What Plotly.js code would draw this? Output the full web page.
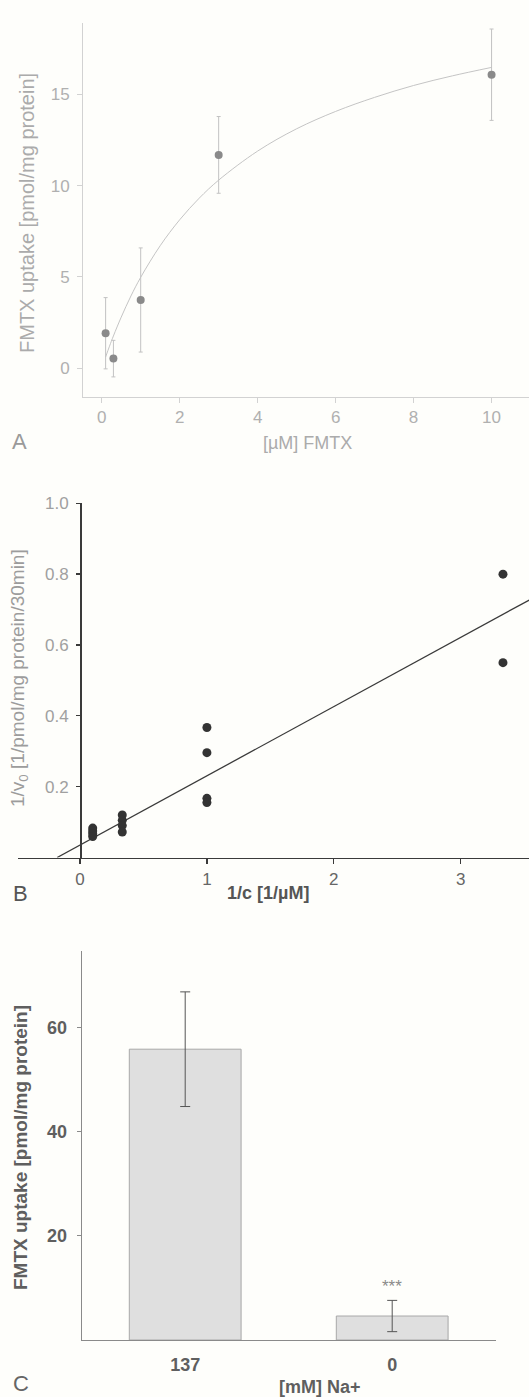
<!DOCTYPE html>
<html>
<head>
<meta charset="utf-8">
<script src="https://cdn.plot.ly/plotly-3.0.1.min.js"></script>
<style>
html,body{margin:0;padding:0;background:#fefefb;}
#chart{width:529px;height:1397px;}
</style>
</head>
<body>
<div id="chart"></div>
<script>
// ---------- Panel A: FMTX uptake vs concentration ----------
const concA = [0.1, 0.3, 1, 3, 10];
const uptakeA = [1.92, 0.53, 3.74, 11.68, 16.07];
const errA = [1.95, 1.0, 2.85, 2.1, 2.5];
// fitted saturation curve
const fitAx = [0.1, 0.2, 0.3, 0.5, 0.75, 1, 1.5, 2, 2.5, 3, 4, 5, 6, 7, 8, 9, 10];
const fitAy = [0.62, 1.21, 1.77, 2.80, 3.96, 4.98, 6.71, 8.13, 9.31, 10.30, 11.89, 13.11, 14.06, 14.83, 15.48, 16.01, 16.47];

// ---------- Panel B: Lineweaver-Burk ----------
const invConcB = [0.1, 0.1, 0.1, 0.1, 0.333, 0.333, 0.333, 0.333, 1, 1, 1, 1, 3.333, 3.333];
const invRateB = [0.083, 0.075, 0.067, 0.059, 0.120, 0.105, 0.090, 0.072, 0.367, 0.296, 0.167, 0.155, 0.80, 0.55];
const fitBx = [-0.18, 3.54];
const fitBy = [0.0, 0.727];

// ---------- Panel C: Na+ dependence ----------
const naCats = ['137', '0'];
const naUptake = [55.8, 4.6];
const naErr = [11.0, 3.0];
const sigLabel = '***';

const FONT = 'Liberation Sans, Arial, Helvetica, sans-serif';
const W = 529, H = 1397;
const px = v => v / W;
const py = v => 1 - v / H;
const BG = '#fefefb';

const traces = [
  {
    x: fitAx, y: fitAy, type: 'scatter', mode: 'lines', line: {color: '#c4c4c4', width: 1, shape: 'spline'},
    xaxis: 'x', yaxis: 'y', hoverinfo: 'skip'
  },
  {
    x: concA, y: uptakeA, type: 'scatter', mode: 'markers',
    marker: {color: '#8a8a8a', size: 8},
    error_y: {type: 'data', array: errA, visible: true, color: '#c2c2c2', thickness: 1, width: 2},
    xaxis: 'x', yaxis: 'y'
  },
  {
    x: fitBx, y: fitBy, type: 'scatter', mode: 'lines', line: {color: '#3a3a3a', width: 1.3},
    xaxis: 'x2', yaxis: 'y2', cliponaxis: false
  },
  {
    x: invConcB, y: invRateB, type: 'scatter', mode: 'markers',
    marker: {color: '#333333', size: 9},
    xaxis: 'x2', yaxis: 'y2'
  },
  {
    x: naCats, y: naUptake, type: 'bar', width: 0.54,
    marker: {color: '#dfdfdf', line: {color: '#a8a8a8', width: 1}},
    error_y: {type: 'data', array: naErr, visible: true, color: '#555555', thickness: 1, width: 5},
    xaxis: 'x3', yaxis: 'y3'
  }
];

const layout = {
  width: W, height: H,
  margin: {l: 0, r: 0, t: 0, b: 0},
  paper_bgcolor: BG, plot_bgcolor: BG,
  showlegend: false,
  font: {family: FONT},
  xaxis: {
    domain: [px(83), 1], range: [-0.48, 10.96], anchor: 'y',
    showline: true, linecolor: '#d2d2d2', linewidth: 1,
    ticks: 'outside', ticklen: 5, tickcolor: '#d2d2d2',
    tickvals: [0, 2, 4, 6, 8, 10], tickfont: {size: 17, color: '#b0b0b0'},
    showgrid: false, zeroline: false
  },
  yaxis: {
    domain: [py(396.7), py(23)], range: [-1.554, 18.9], anchor: 'x',
    showline: true, linecolor: '#d2d2d2', linewidth: 1,
    ticks: 'outside', ticklen: 5, tickcolor: '#d2d2d2',
    tickvals: [0, 5, 10, 15], tickfont: {size: 17, color: '#b0b0b0'},
    ticklabelstandoff: 4,
    showgrid: false, zeroline: false
  },
  xaxis2: {
    domain: [px(18), 1], range: [-0.4886, 3.538], anchor: 'y2',
    showline: true, linecolor: '#3a3a3a', linewidth: 1.6,
    ticks: 'outside', ticklen: 5, tickcolor: '#3a3a3a', tickwidth: 1.3,
    tickvals: [0, 1, 2, 3], tickfont: {size: 17, color: '#666666'},
    showgrid: false, zeroline: false
  },
  yaxis2: {
    domain: [py(857.5), py(503.3)], range: [0, 1.0], anchor: 'free', position: px(80),
    showline: true, linecolor: '#3a3a3a', linewidth: 1.6,
    ticks: 'outside', ticklen: 4, tickcolor: '#3a3a3a', tickwidth: 1.3,
    tickvals: [0.2, 0.4, 0.6, 0.8, 1.0], tickformat: '.1f',
    tickfont: {size: 17, color: '#a0a0a0'}, ticklabelstandoff: 4,
    showgrid: false, zeroline: false
  },
  xaxis3: {
    domain: [px(81.7), px(495.7)], type: 'category', range: [-0.5, 1.5], anchor: 'y3',
    showline: true, linecolor: '#8a8a8a', linewidth: 1,
    ticks: '', tickfont: {size: 18, color: '#5f5f5f', weight: 'bold'},
    ticklabelstandoff: 8,
    showgrid: false, zeroline: false
  },
  yaxis3: {
    domain: [py(1340), py(950.7)], range: [0, 74.7], anchor: 'x3',
    showline: true, linecolor: '#8a8a8a', linewidth: 1,
    ticks: 'outside', ticklen: 4, tickcolor: '#8a8a8a',
    tickvals: [20, 40, 60], tickfont: {size: 18, color: '#5f5f5f', weight: 'bold'},
    ticklabelstandoff: 6,
    showgrid: false, zeroline: false
  },
  annotations: [
    // Panel A
    {text: 'FMTX uptake [pmol/mg protein]', xref: 'paper', yref: 'paper', x: px(27), y: py(213),
     textangle: -90, showarrow: false, xanchor: 'center', yanchor: 'middle', font: {size: 20, color: '#ababab'}},
    {text: '[µM] FMTX', xref: 'paper', yref: 'paper', x: px(307), y: py(443),
     showarrow: false, xanchor: 'center', yanchor: 'middle', font: {size: 18, color: '#ababab'}},
    {text: 'A', xref: 'paper', yref: 'paper', x: px(19), y: py(441),
     showarrow: false, xanchor: 'center', yanchor: 'middle', font: {size: 22, color: '#9a9a9a'}},
    // Panel B
    {text: '1/v<sub>0</sub> [1/pmol/mg protein/30min]', xref: 'paper', yref: 'paper', x: px(19), y: py(678),
     textangle: -90, showarrow: false, xanchor: 'center', yanchor: 'middle', font: {size: 19, color: '#9c9c9c'}},
    {text: '1/c [1/µM]', xref: 'paper', yref: 'paper', x: px(268), y: py(893),
     showarrow: false, xanchor: 'center', yanchor: 'middle', font: {size: 18, color: '#555555', weight: 'bold'}},
    {text: 'B', xref: 'paper', yref: 'paper', x: px(20), y: py(893),
     showarrow: false, xanchor: 'center', yanchor: 'middle', font: {size: 22, color: '#555555'}},
    // Panel C
    {text: 'FMTX uptake [pmol/mg protein]', xref: 'paper', yref: 'paper', x: px(20), y: py(1148),
     textangle: -90, showarrow: false, xanchor: 'center', yanchor: 'middle', font: {size: 19, color: '#5f5f5f', weight: 'bold'}},
    {text: '[mM] Na+', xref: 'paper', yref: 'paper', x: px(320), y: py(1387),
     showarrow: false, xanchor: 'center', yanchor: 'middle', font: {size: 18, color: '#5f5f5f', weight: 'bold'}},
    {text: 'C', xref: 'paper', yref: 'paper', x: px(21), y: py(1383),
     showarrow: false, xanchor: 'center', yanchor: 'middle', font: {size: 22, color: '#666666'}},
    {text: sigLabel, xref: 'x3', yref: 'y3', x: naCats.indexOf('0'), y: naUptake[1] + naErr[1],
     yshift: 14, showarrow: false, xanchor: 'center', yanchor: 'middle', font: {size: 17, color: '#8a8a8a'}}
  ]
};

Plotly.newPlot('chart', traces, layout, {staticPlot: true, displayModeBar: false});
</script>
</body>
</html>
